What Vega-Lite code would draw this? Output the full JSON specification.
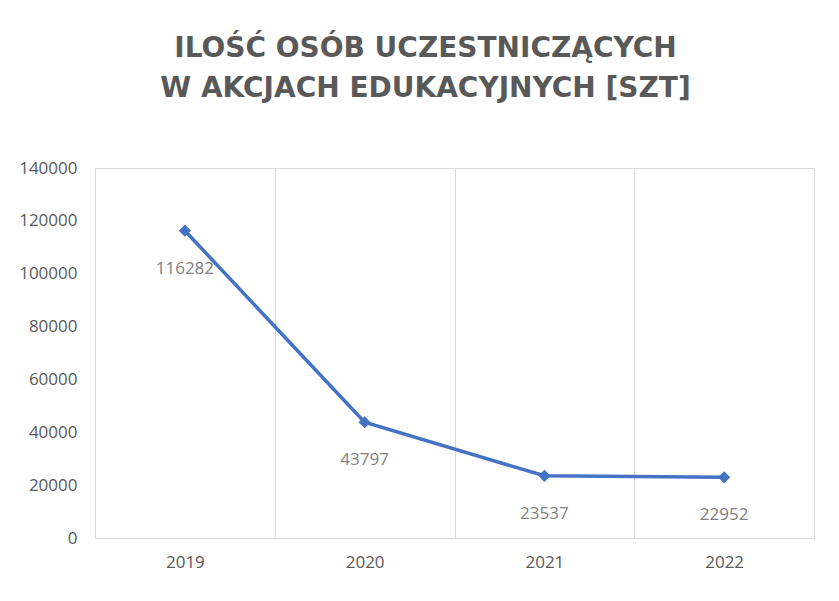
{
  "$schema": "https://vega.github.io/schema/vega-lite/v6.json",
  "width": 719,
  "height": 370,
  "autosize": {"type": "none"},
  "padding": {"left": 95, "top": 168, "right": 25, "bottom": 63},
  "background": "white",
  "title": {
    "text": ["ILOŚĆ OSÓB UCZESTNICZĄCYCH", "W AKCJACH EDUKACYJNYCH [SZT]"],
    "font": "DejaVu Sans",
    "fontSize": 28,
    "fontWeight": "bold",
    "color": "#595959",
    "anchor": "middle",
    "frame": "group",
    "dx": -29,
    "lineHeight": 40,
    "offset": 56
  },
  "data": {
    "values": [
      {"rok": "2019", "liczba": 116282},
      {"rok": "2020", "liczba": 43797},
      {"rok": "2021", "liczba": 23537},
      {"rok": "2022", "liczba": 22952}
    ]
  },
  "encoding": {
    "x": {
      "field": "rok",
      "type": "ordinal",
      "scale": {"type": "band", "paddingInner": 0, "paddingOuter": 0},
      "axis": {
        "title": null,
        "labelAngle": 0,
        "tickBand": "extent",
        "ticks": false,
        "grid": true,
        "gridColor": "#d9d9d9",
        "gridWidth": 1,
        "domainColor": "#d9d9d9",
        "domainWidth": 1,
        "labelFont": "Open Sans",
        "labelFontSize": 17,
        "labelColor": "#595959",
        "labelPadding": 16
      }
    },
    "y": {
      "field": "liczba",
      "type": "quantitative",
      "scale": {"domain": [0, 140000], "nice": false},
      "axis": {
        "title": null,
        "values": [0, 20000, 40000, 60000, 80000, 100000, 120000, 140000],
        "format": "d",
        "grid": false,
        "domain": false,
        "ticks": false,
        "labelFont": "Open Sans",
        "labelFontSize": 17,
        "labelColor": "#595959",
        "labelPadding": 18
      }
    }
  },
  "layer": [
    {
      "mark": {"type": "line", "color": "#4472C4", "strokeWidth": 3.5}
    },
    {
      "mark": {"type": "point", "shape": "diamond", "filled": true, "color": "#4472C4", "size": 150, "opacity": 1}
    },
    {
      "mark": {"type": "text", "font": "Open Sans", "fontSize": 17, "color": "#7f7f7f", "dy": 38, "baseline": "middle"},
      "encoding": {"text": {"field": "liczba", "type": "quantitative", "format": "d"}}
    }
  ]
}
